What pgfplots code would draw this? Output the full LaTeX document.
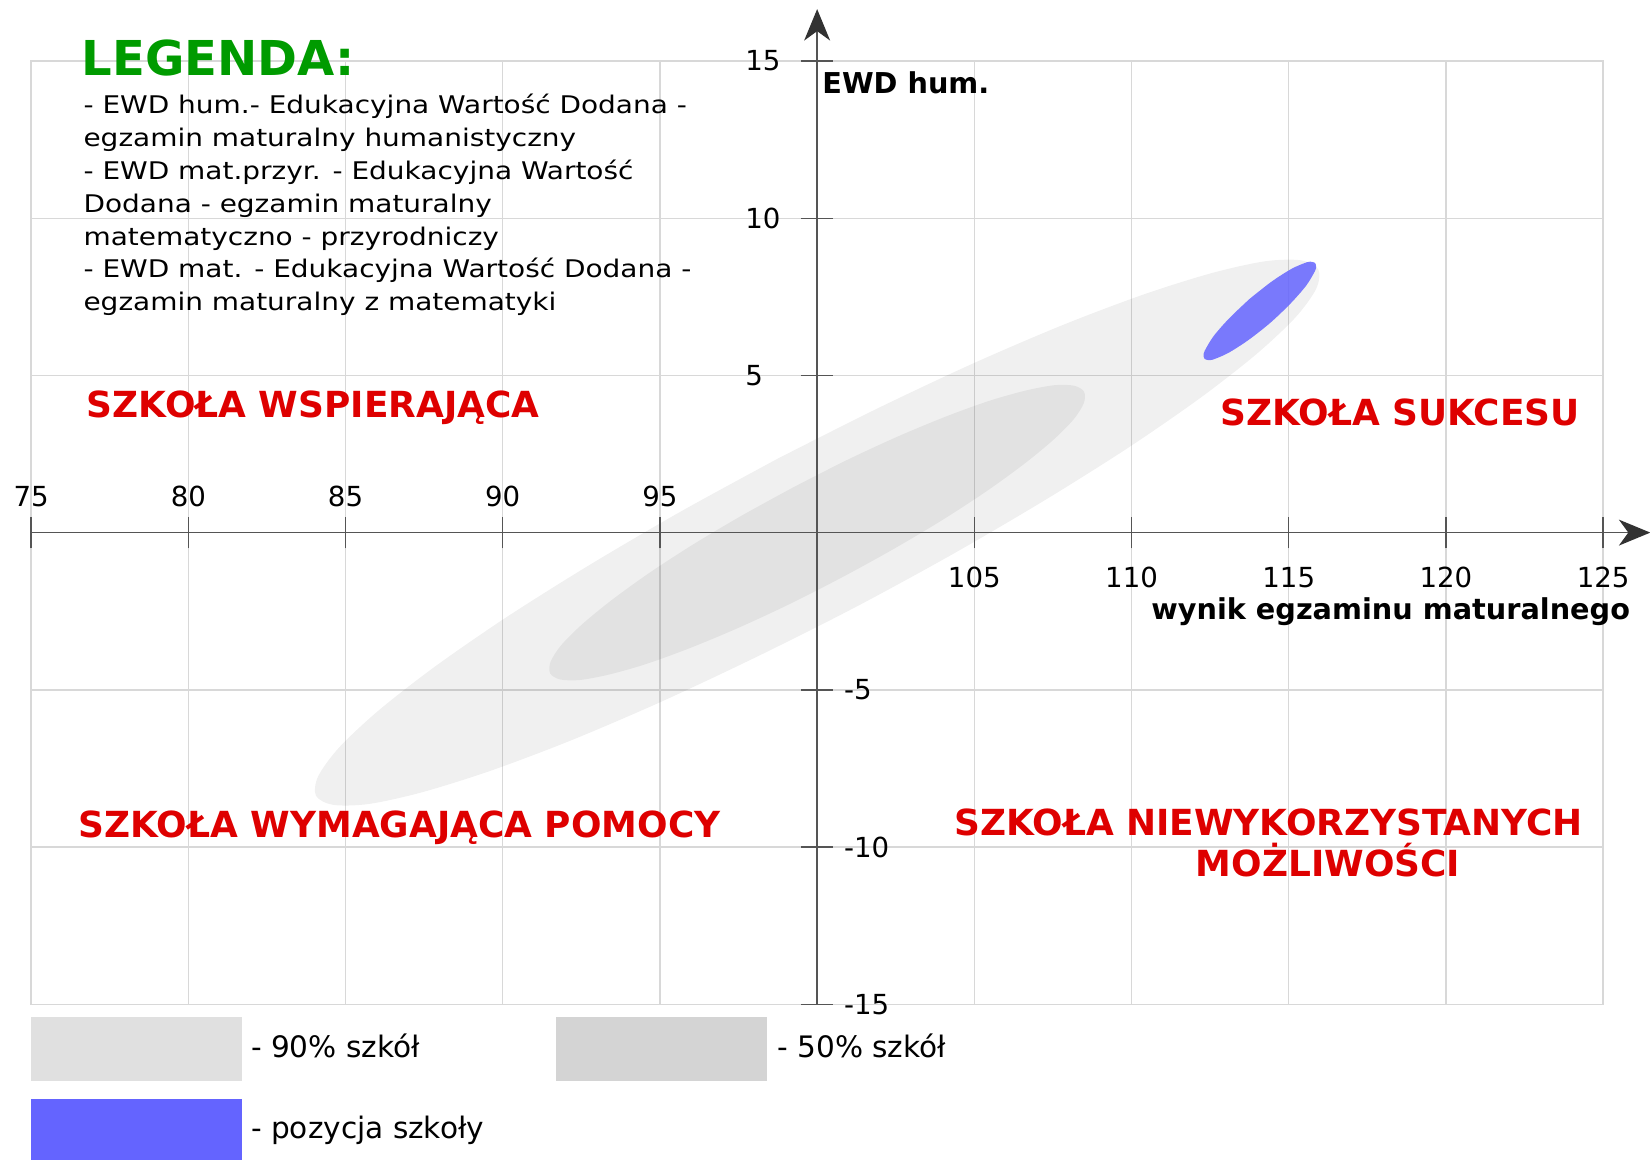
\documentclass[border=0pt]{standalone}
\usepackage{fontspec}
\setmainfont{DejaVu Sans}
\newfontfamily\legfont[FakeStretch=1.15]{DejaVu Sans}
\usepackage{pgfplots}
\pgfplotsset{compat=1.18}
\usetikzlibrary{arrows.meta}

\definecolor{gridgray}{RGB}{216,216,216}
\definecolor{axiscol}{RGB}{85,85,85}
\definecolor{arrowcol}{RGB}{50,50,50}
\definecolor{lg90}{RGB}{224,224,224}
\definecolor{lg50}{RGB}{212,212,212}
\definecolor{pozblue}{RGB}{100,100,255}
\definecolor{redlab}{RGB}{222,0,0}
\definecolor{greenlab}{RGB}{0,155,0}

\tikzset{
  ticklab/.style={inner sep=0pt, font=\fontsize{10}{12}\selectfont},
  boxlab/.style={inner sep=0pt, anchor=base west, font=\fontsize{10.7}{12}\selectfont},
  leglab/.style={inner sep=0pt, anchor=base west, font=\legfont\fontsize{8.8}{11}\selectfont},
  redlab/.style={inner sep=0pt, anchor=base, text=redlab, font=\fontsize{13}{15}\selectfont\bfseries},
  axlab/.style={inner sep=0pt, font=\fontsize{10.4}{12}\selectfont\bfseries},
}

\begin{document}
\begin{tikzpicture}
\begin{axis}[
  x=0.4cm, y=0.4cm,
  scale only axis,
  xmin=75, xmax=125, ymin=-15, ymax=15,
  xtick={75,80,...,125}, ytick={-15,-10,...,15},
  xticklabels={}, yticklabels={},
  major tick length=0pt,
  grid=major,
  grid style={draw=gridgray, line width=0.5pt},
  axis line style={draw=gridgray, line width=0.5pt},
  clip=false,
]

% 90% szkol
\addplot[draw=none, fill=black, fill opacity=0.06, smooth] coordinates {
  (98.76,2.36) (95.68,0.68) (92.76,-1.03) (90.12,-2.69) (87.86,-4.25)
  (86.06,-5.65) (84.80,-6.83) (84.13,-7.75) (84.06,-8.37) (84.61,-8.66)
  (85.75,-8.63) (87.43,-8.26) (89.60,-7.58) (92.17,-6.61) (95.04,-5.38)
  (98.10,-3.94) (101.24,-2.36) (104.32,-0.68) (107.24,1.03) (109.88,2.69)
  (112.14,4.25) (113.94,5.65) (115.20,6.83) (115.87,7.75) (115.94,8.37)
  (115.39,8.66) (114.25,8.63) (112.57,8.26) (110.40,7.58) (107.83,6.61)
  (104.96,5.38) (101.90,3.94) (98.76,2.36)
};
% 50% szkol
\addplot[draw=none, fill=black, fill opacity=0.06, smooth] coordinates {
  (99.24,1.44) (97.60,0.54) (96.05,-0.38) (94.65,-1.29) (93.46,-2.15)
  (92.52,-2.92) (91.86,-3.58) (91.52,-4.11) (91.51,-4.48) (91.82,-4.67)
  (92.44,-4.69) (93.36,-4.52) (94.53,-4.19) (95.91,-3.69) (97.45,-3.05)
  (99.09,-2.29) (100.76,-1.44) (102.40,-0.54) (103.95,0.38) (105.35,1.29)
  (106.54,2.15) (107.48,2.92) (108.14,3.58) (108.48,4.11) (108.49,4.48)
  (108.18,4.67) (107.56,4.69) (106.64,4.52) (105.47,4.19) (104.09,3.69)
  (102.55,3.05) (100.91,2.29) (99.24,1.44)
};
% pozycja szkoly
\addplot[draw=none, fill=pozblue, fill opacity=0.85, smooth] coordinates {
  (113.75,7.43) (113.11,6.82) (112.61,6.25) (112.33,5.79) (112.29,5.64)
  (112.32,5.53) (112.42,5.49) (112.58,5.50) (113.07,5.71) (113.71,6.12)
  (114.41,6.67) (115.05,7.28) (115.55,7.85) (115.83,8.31) (115.87,8.46)
  (115.84,8.57) (115.74,8.61) (115.58,8.60) (115.09,8.39) (114.45,7.98)
  (113.75,7.43)
};

% osie
\draw[axiscol, line width=0.5pt, -{Stealth[length=0.4cm, width=0.33cm, inset=0.12cm, color=arrowcol]}]
  (axis cs:75,0) -- (axis cs:126.5,0);
\draw[axiscol, line width=0.5pt, -{Stealth[length=0.4cm, width=0.33cm, inset=0.12cm, color=arrowcol]}]
  (axis cs:100,-15) -- (axis cs:100,16.65);
\pgfplotsinvokeforeach{75,80,85,90,95,100,105,110,115,120,125}{
  \draw[axiscol, line width=0.5pt] (axis cs:#1,-0.5) -- (axis cs:#1,0.5);
}
\pgfplotsinvokeforeach{-15,-10,-5,5,10,15}{
  \draw[axiscol, line width=0.5pt] (axis cs:99.5,#1) -- (axis cs:100.5,#1);
}

% etykiety osi
\pgfplotsinvokeforeach{75,80,85,90,95}{
  \node[ticklab, anchor=base] at (axis cs:#1,0.84) {#1};
}
\pgfplotsinvokeforeach{105,110,115,120,125}{
  \node[ticklab, anchor=base] at (axis cs:#1,-1.76) {#1};
}
\pgfplotsinvokeforeach{15,10,5}{
  \node[ticklab, anchor=west] at (axis cs:97.7,#1) {#1};
}
\pgfplotsinvokeforeach{-15,-10,-5}{
  \node[ticklab, anchor=west] at (axis cs:100.84,#1) {#1};
}
\node[axlab, anchor=base west] at (axis cs:100.15,13.96) {EWD hum.};
\node[axlab, anchor=base] at (axis cs:118.24,-2.76) {wynik egzaminu maturalnego};

% legenda
\node[inner sep=0pt, anchor=base west, text=greenlab, font=\fontsize{17.4}{20}\selectfont\bfseries]
  at (axis cs:76.6,14.54) {LEGENDA:};
\node[leglab] at (axis cs:76.65,13.33) {- EWD hum.- Edukacyjna Wartość Dodana -};
\node[leglab] at (axis cs:76.65,12.28) {egzamin maturalny humanistyczny};
\node[leglab] at (axis cs:76.65,11.24) {- EWD mat.przyr. - Edukacyjna Wartość};
\node[leglab] at (axis cs:76.65,10.19) {Dodana - egzamin maturalny};
\node[leglab] at (axis cs:76.65,9.14) {matematyczno - przyrodniczy};
\node[leglab] at (axis cs:76.65,8.10) {- EWD mat. - Edukacyjna Wartość Dodana -};
\node[leglab] at (axis cs:76.65,7.05) {egzamin maturalny z matematyki};

% cwiartki
\node[redlab] at (axis cs:83.97,3.65) {SZKOŁA WSPIERAJĄCA};
\node[redlab] at (axis cs:118.54,3.41) {SZKOŁA SUKCESU};
\node[redlab] at (axis cs:86.72,-9.70) {SZKOŁA WYMAGAJĄCA POMOCY};
\node[redlab] at (axis cs:114.36,-9.63) {SZKOŁA NIEWYKORZYSTANYCH};
\node[redlab] at (axis cs:116.25,-10.94) {MOŻLIWOŚCI};

% objasnienia pod wykresem
\fill[lg90] (axis cs:75,-15.41) rectangle (axis cs:81.72,-17.45);
\fill[lg50] (axis cs:91.70,-15.41) rectangle (axis cs:98.42,-17.45);
\fill[pozblue] (axis cs:75,-18.03) rectangle (axis cs:81.72,-19.96);
\node[boxlab] at (axis cs:81.98,-16.69) {- 90\% szkół};
\node[boxlab] at (axis cs:98.72,-16.69) {- 50\% szkół};
\node[boxlab] at (axis cs:81.98,-19.28) {- pozycja szkoły};

\coordinate (bl) at (axis cs:74.01,-19.96);
\coordinate (tr) at (axis cs:126.49,16.94);
\end{axis}
\pgfresetboundingbox
\path (bl) rectangle (tr);
\end{tikzpicture}
\end{document}
